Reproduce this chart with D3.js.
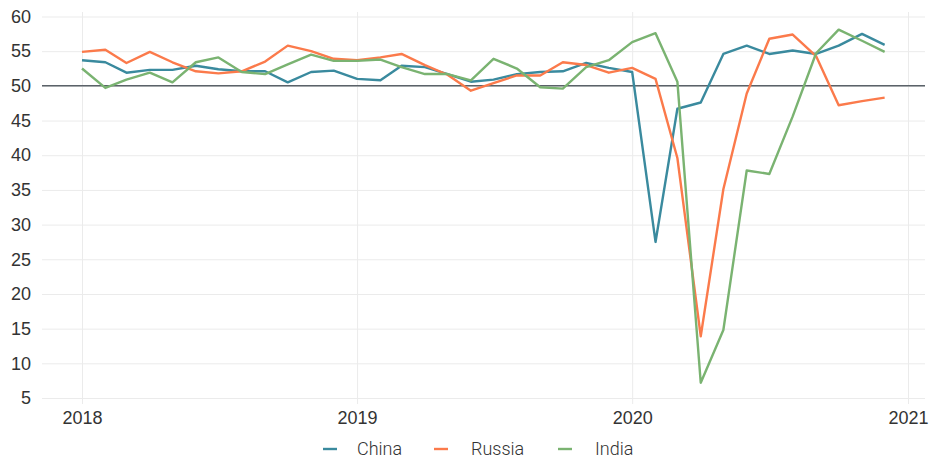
<!DOCTYPE html>
<html>
<head>
<meta charset="utf-8">
<script src="https://cdn.jsdelivr.net/npm/d3@7"></script>
<style>
  body { margin: 0; background: #fff; }
  svg { font-family: Roboto, "Liberation Sans", sans-serif; }
  .axis text { font-size: 18px; font-weight: 300; fill: #333; }
  .axis .domain { display: none; }
  .grid line { stroke: #ebebeb; stroke-width: 1; }
  .grid .domain { display: none; }
  .grid text { display: none; }
  .legend text { font-size: 18px; font-weight: 300; fill: #333; }
</style>
</head>
<body>
<svg id="chart" width="930" height="459"></svg>
<script>
// monthly composite PMI, Jan 2018 - Dec 2020
var months = ["2018-01","2018-02","2018-03","2018-04","2018-05","2018-06","2018-07","2018-08","2018-09","2018-10","2018-11","2018-12",
              "2019-01","2019-02","2019-03","2019-04","2019-05","2019-06","2019-07","2019-08","2019-09","2019-10","2019-11","2019-12",
              "2020-01","2020-02","2020-03","2020-04","2020-05","2020-06","2020-07","2020-08","2020-09","2020-10","2020-11","2020-12"];

var china  = [53.7, 53.4, 51.9, 52.3, 52.3, 52.9, 52.4, 52.1, 52.1, 50.5, 52.0, 52.2,
              51.0, 50.8, 52.9, 52.7, 51.7, 50.6, 50.9, 51.7, 52.0, 52.1, 53.3, 52.6,
              52.0, 27.5, 46.7, 47.6, 54.6, 55.8, 54.6, 55.1, 54.6, 55.8, 57.5, 55.9];
var russia = [54.9, 55.2, 53.3, 54.9, 53.4, 52.1, 51.8, 52.1, 53.5, 55.8, 55.0, 53.9,
              53.7, 54.1, 54.6, 53.0, 51.6, 49.3, 50.4, 51.5, 51.5, 53.4, 53.0, 51.9,
              52.6, 51.0, 39.6, 13.9, 35.1, 48.9, 56.8, 57.4, 54.3, 47.2, 47.8, 48.3];
var india  = [52.5, 49.7, 50.9, 51.9, 50.5, 53.4, 54.1, 52.0, 51.7, 53.1, 54.5, 53.6,
              53.6, 53.8, 52.7, 51.7, 51.7, 50.8, 53.9, 52.5, 49.8, 49.6, 52.7, 53.7,
              56.3, 57.6, 50.6, 7.2, 14.8, 37.8, 37.3, 45.6, 54.7, 58.1, 56.5, 54.9];

var seriesNames = ["China", "Russia", "India"];
var colors = ["#3a8a9e", "#fb7a4b", "#7ab371"];
var yTicks = [5, 10, 15, 20, 25, 30, 35, 40, 45, 50, 55, 60];
var xTicks = ["2018", "2019", "2020", "2021"];
var refLine = 50;

var svg = d3.select("#chart"),
    panel = {left: 42, right: 925, top: 12, bottom: 404};

var parseMonth = d3.timeParse("%Y-%m"),
    parseYear = d3.timeParse("%Y");

var x = d3.scaleTime()
    .domain([parseYear("2018"), parseYear("2021")])
    .range([82, 908]);

var y = d3.scaleLinear()
    .domain([5, 60])
    .range([398, 16.5]);

// grid
svg.append("g")
    .attr("class", "grid")
    .attr("transform", "translate(" + panel.left + ",0)")
    .call(d3.axisLeft(y).tickValues(yTicks).tickSize(-(panel.right - panel.left)));

svg.append("g")
    .attr("class", "grid")
    .attr("transform", "translate(0," + panel.bottom + ")")
    .call(d3.axisBottom(x).tickValues(xTicks.map(parseYear)).tickSize(-(panel.bottom - panel.top)));

// reference line at 50
svg.append("line")
    .attr("x1", panel.left)
    .attr("x2", panel.right)
    .attr("y1", y(refLine))
    .attr("y2", y(refLine))
    .attr("stroke", "#5b6269")
    .attr("stroke-width", 1.5);

// axes labels
svg.append("g")
    .attr("class", "axis")
    .attr("transform", "translate(" + panel.left + ",0)")
    .call(d3.axisLeft(y).tickValues(yTicks).tickSize(0).tickPadding(11))
    .selectAll("line").remove();

svg.append("g")
    .attr("class", "axis")
    .attr("transform", "translate(0," + panel.bottom + ")")
    .call(d3.axisBottom(x).tickValues(xTicks.map(parseYear)).tickFormat(d3.timeFormat("%Y")).tickSize(0).tickPadding(7))
    .selectAll("line").remove();

// lines
var data = [china, russia, india].map(function(vals, i) {
  return {name: seriesNames[i], values: vals.map(function(v, j) { return {date: parseMonth(months[j]), value: v}; })};
});

var line = d3.line()
    .x(function(d) { return x(d.date); })
    .y(function(d) { return y(d.value); });

svg.append("g")
  .selectAll("path")
  .data(data)
  .enter().append("path")
    .attr("fill", "none")
    .attr("stroke", function(d, i) { return colors[i]; })
    .attr("stroke-width", 2.4)
    .attr("stroke-linejoin", "round")
    .attr("d", function(d) { return line(d.values); });

// legend
var keyX = [323, 434, 558],
    labelX = [357, 471, 595];
var legend = svg.append("g")
    .attr("class", "legend")
  .selectAll("g")
  .data(seriesNames)
  .enter().append("g")
    .attr("transform", "translate(0,449)");

legend.append("line")
    .attr("x1", function(d, i) { return keyX[i]; })
    .attr("x2", function(d, i) { return keyX[i] + 14; })
    .attr("stroke", function(d, i) { return colors[i]; })
    .attr("stroke-width", 2.4);

legend.append("text")
    .attr("x", function(d, i) { return labelX[i]; })
    .attr("dy", "0.35em")
    .text(function(d) { return d; });
</script>
</body>
</html>
